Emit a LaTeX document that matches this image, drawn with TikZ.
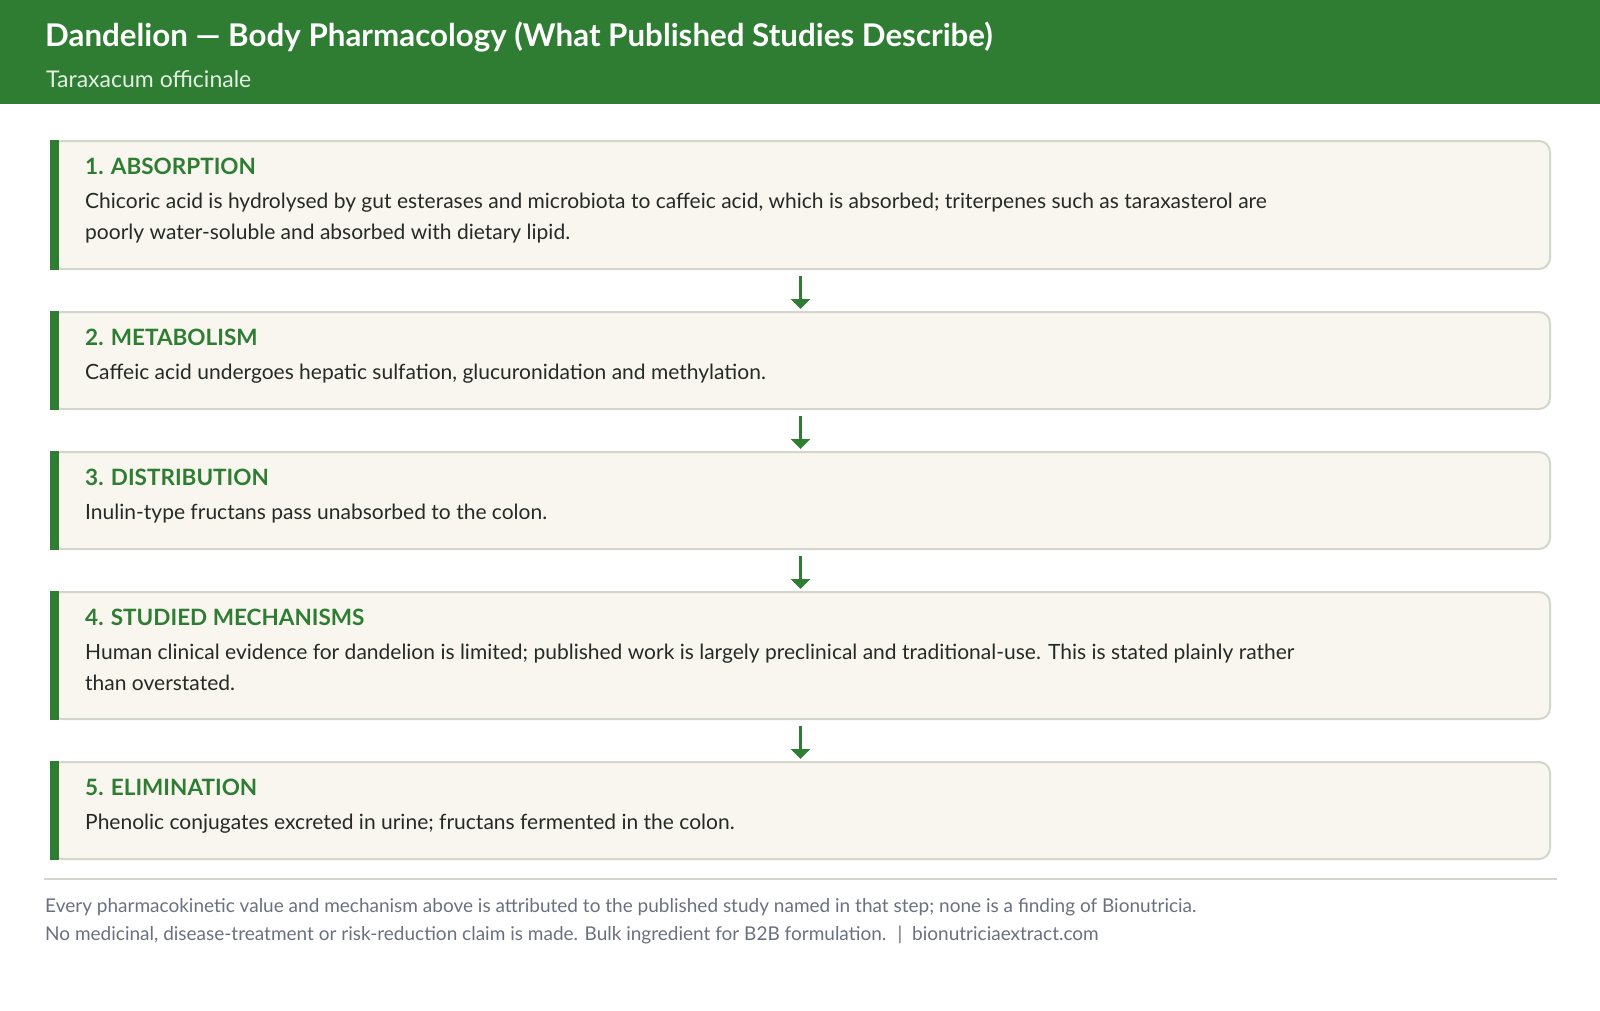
\documentclass[tikz,border=0pt]{standalone}
\usepackage{fontspec}
\setmainfont{Lato}
\usetikzlibrary{arrows.meta}
\definecolor{leaf}{HTML}{2E7D32}
\definecolor{paper}{HTML}{F8F6EF}
\definecolor{rim}{HTML}{D3D7CB}
\definecolor{ink}{HTML}{262A26}
\definecolor{mute}{HTML}{6B7080}
\definecolor{pale}{HTML}{E3EFE3}

\begin{document}
\begin{tikzpicture}[x=1pt,y=-1pt,
  stage/.style={minimum width=1499pt,inner sep=0pt,outer sep=0pt},
  head/.style={anchor=base west,inner sep=0pt,text=leaf,font=\fontsize{22.5}{27}\selectfont\bfseries},
  body/.style={anchor=base west,inner sep=0pt,text=ink,align=left,font=\fontsize{21}{31}\selectfont},
  note/.style={anchor=base west,inner sep=0pt,text=mute,font=\fontsize{19}{23}\selectfont},
  flow/.style={-{Triangle[width=19pt,length=10pt]},line width=3pt,leaf}]
  \useasboundingbox (0,0) rectangle (1600,1010);
  \fill[leaf] (0,0) rectangle (1600,104);
  \node[anchor=base west,inner sep=0pt,text=white,font=\fontsize{31.3}{37}\selectfont\bfseries] (title) at (45,46) {Dandelion — Body Pharmacology (What Published Studies Describe)};
  \node[anchor=base west,inner sep=0pt,text=pale,font=\fontsize{23}{27}\selectfont] (latin) at (46,87) {Taraxacum officinale};

  \node[stage,minimum height=128pt] (absorb) at (800.5,205) {};
  \node[stage,minimum height=97pt] (metab) at (800.5,360.5) {};
  \node[stage,minimum height=97pt] (distrib) at (800.5,500.5) {};
  \node[stage,minimum height=127pt] (mech) at (800.5,655.5) {};
  \node[stage,minimum height=97pt] (elim) at (800.5,810.5) {};
  \foreach \s in {absorb,metab,distrib,mech,elim} {
    \draw[fill=paper,draw=rim,line width=2pt,rounded corners=11pt] (\s.north west) rectangle (\s.south east);
    \fill[leaf] ([xshift=-1pt,yshift=1pt]\s.north west) rectangle ([xshift=8pt,yshift=-1pt]\s.south west);
  }

  \node[head] (h1) at (85,174) {1. ABSORPTION};
  \node[body] (t1) at (85,239) {Chicoric acid is hydrolysed by gut esterases and microbiota to caffeic acid, which is absorbed; triterpenes such as taraxasterol are\\poorly water-soluble and absorbed with dietary lipid.};
  \node[head] (h2) at (85,345) {2. METABOLISM};
  \node[body] (t2) at (85,379) {Caffeic acid undergoes hepatic sulfation, glucuronidation and methylation.};
  \node[head] (h3) at (85,485) {3. DISTRIBUTION};
  \node[body] (t3) at (85,519) {Inulin-type fructans pass unabsorbed to the colon.};
  \node[head] (h4) at (85,625) {4. STUDIED MECHANISMS};
  \node[body] (t4) at (85,690) {Human clinical evidence for dandelion is limited; published work is largely preclinical and traditional-use. This is stated plainly rather\\than overstated.};
  \node[head] (h5) at (85,795) {5. ELIMINATION};
  \node[body] (t5) at (85,829) {Phenolic conjugates excreted in urine; fructans fermented in the colon.};

  \draw[flow] ([yshift=-7pt]absorb.south) -- ([yshift=3pt]metab.north);
  \draw[flow] ([yshift=-7pt]metab.south) -- ([yshift=3pt]distrib.north);
  \draw[flow] ([yshift=-7pt]distrib.south) -- ([yshift=3pt]mech.north);
  \draw[flow] ([yshift=-7pt]mech.south) -- ([yshift=3pt]elim.north);

  \coordinate (rulel) at (44,879);
  \coordinate (ruler) at (1557,879);
  \draw[rim,line width=2pt] (rulel) -- (ruler);
  \node[note] (n1) at (45,912) {Every pharmacokinetic value and mechanism above is attributed to the published study named in that step; none is a finding of Bionutricia.};
  \node[note] (n2) at (45,940) {No medicinal, disease-treatment or risk-reduction claim is made. Bulk ingredient for B2B formulation. \ | \ bionutriciaextract.com};
\end{tikzpicture}
\end{document}
